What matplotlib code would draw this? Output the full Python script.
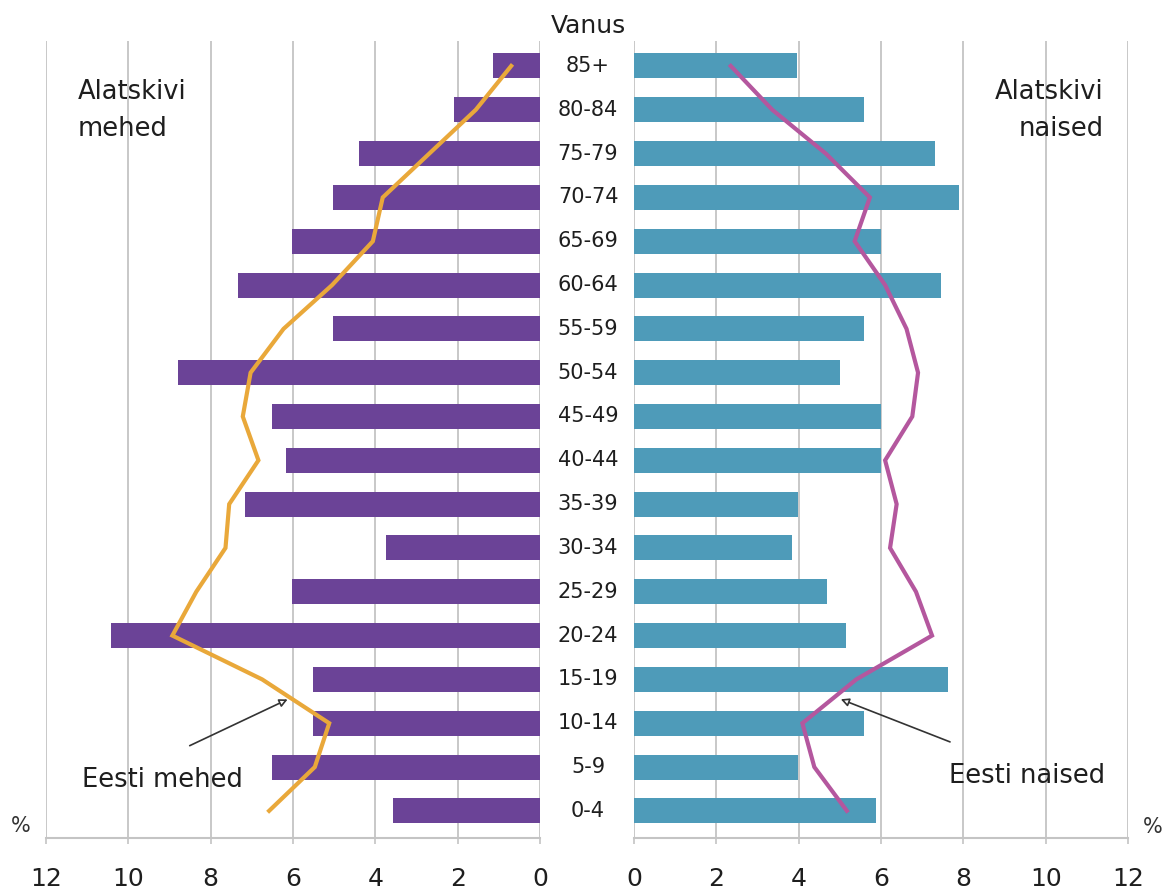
import matplotlib
matplotlib.use("Agg")
import matplotlib.pyplot as plt
from matplotlib.transforms import blended_transform_factory

plt.rcParams['font.family'] = ['DejaVu Sans']

age_groups = ["0-4", "5-9", "10-14", "15-19", "20-24", "25-29", "30-34", "35-39",
              "40-44", "45-49", "50-54", "55-59", "60-64", "65-69", "70-74",
              "75-79", "80-84", "85+"]
alatskivi_mehed = [3.58, 6.50, 5.52, 5.52, 10.42, 6.03, 3.73, 7.17,
                   6.18, 6.50, 8.79, 5.03, 7.33, 6.03, 5.03, 4.39, 2.09, 1.13]
alatskivi_naised = [5.87, 3.98, 5.59, 7.62, 5.14, 4.69, 3.85, 3.98,
                    6.01, 6.01, 5.00, 5.59, 7.46, 6.01, 7.90, 7.32, 5.59, 3.96]
eesti_mehed = [6.58, 5.47, 5.12, 6.75, 8.93, 8.35, 7.64, 7.55,
               6.84, 7.22, 7.03, 6.23, 5.05, 4.06, 3.82, 2.69, 1.56, 0.70]
eesti_naised = [5.17, 4.38, 4.09, 5.40, 7.24, 6.85, 6.22, 6.38,
                6.10, 6.76, 6.90, 6.62, 6.10, 5.36, 5.73, 4.66, 3.36, 2.35]
x_ticks = [0, 2, 4, 6, 8, 10, 12]

W, H = 1169, 894
fig = plt.figure(figsize=(W / 100, H / 100), dpi=100)

bottom = 1 - 838 / H
height = (838 - 41) / H
axL = fig.add_axes([46 / W, bottom, 494 / W, height])
axR = fig.add_axes([634 / W, bottom, 494 / W, height])

purple = '#6B4397'
blue = '#4E9BB9'
orange = '#E9A83A'
magenta = '#B4579E'
grid_c = '#C4C4C4'
txt = '#1E1E1E'

y = list(range(len(age_groups)))

for ax in (axL, axR):
    ax.set_ylim(-0.62, len(age_groups) - 1 + 0.57)
    ax.set_xticks(x_ticks)
    ax.set_xticklabels([str(t) for t in x_ticks], fontsize=18, color=txt)
    ax.set_yticks([])
    for s in ('top', 'right', 'left'):
        ax.spines[s].set_visible(False)
    ax.spines['bottom'].set_color(grid_c)
    ax.spines['bottom'].set_linewidth(1.5)
    ax.tick_params(axis='x', length=4, width=1.2, color=grid_c, pad=17)
    ax.grid(axis='x', color=grid_c, linewidth=1.3)
    ax.set_axisbelow(True)
    ax.patch.set_alpha(0)

axL.set_xlim(12, 0)
axR.set_xlim(0, 12)

axL.barh(y, alatskivi_mehed, height=0.57, color=purple, zorder=2)
axR.barh(y, alatskivi_naised, height=0.57, color=blue, zorder=2)
axL.plot(eesti_mehed, y, color=orange, lw=3, zorder=3, solid_joinstyle='miter')
axR.plot(eesti_naised, y, color=magenta, lw=3, zorder=3, solid_joinstyle='miter')

# center labels
tr = blended_transform_factory(fig.transFigure, axR.transData)
for yi, lab in zip(y, age_groups):
    fig.text(588 / W, yi, lab, transform=tr, ha='center', va='center',
             fontsize=15, color=txt)
fig.text(588 / W, 1 - 33 / H, "Vanus", ha='center', va='baseline', fontsize=18,
         color=txt)

# side titles
axL.text(11.22, 16.24, "Alatskivi", ha='left', va='baseline', fontsize=18.5, color=txt)
axL.text(11.22, 15.40, "mehed", ha='left', va='baseline', fontsize=18.5, color=txt)
axR.text(11.40, 16.24, "Alatskivi", ha='right', va='baseline', fontsize=18.5, color=txt)
axR.text(11.40, 15.40, "naised", ha='right', va='baseline', fontsize=18.5, color=txt)

# annotations
arrow = dict(arrowstyle='-|>', fc='white', ec='#333333', lw=1.2, mutation_scale=12)
axL.annotate('', xy=(6.07, 2.57), xytext=(8.57, 1.46), arrowprops=arrow, zorder=5)
axL.text(11.12, 0.55, "Eesti mehed", ha='left', va='baseline', fontsize=18.5, color=txt)
axR.annotate('', xy=(4.96, 2.57), xytext=(7.74, 1.55), arrowprops=arrow, zorder=5)
axR.text(11.44, 0.64, "Eesti naised", ha='right', va='baseline', fontsize=18.5, color=txt)

# percent signs
fig.text(21 / W, 1 - 826 / H, "%", ha='center', va='center', fontsize=15, color='#333333')
fig.text(1153 / W, 1 - 827 / H, "%", ha='center', va='center', fontsize=15, color='#333333')

fig.savefig("out.png", dpi=100, facecolor='white')
